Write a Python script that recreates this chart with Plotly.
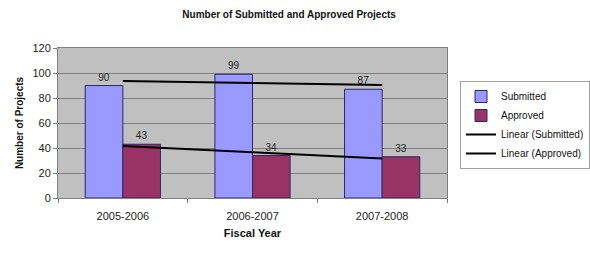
import numpy as np
import plotly.graph_objects as go

categories = ["2005-2006", "2006-2007", "2007-2008"]
submitted = [90, 99, 87]
approved = [43, 34, 33]
y_ticks = [0, 20, 40, 60, 80, 100, 120]


def linear_trend(vals):
    x = np.arange(1, len(vals) + 1)
    m, b = np.polyfit(x, vals, 1)
    return list(m * x + b)


font = "Liberation Sans, Arial, sans-serif"
fig = go.Figure()
fig.add_trace(go.Bar(
    x=categories, y=submitted, name="Submitted",
    marker=dict(color="#9999ff", line=dict(color="#2a2a60", width=1)),
    text=submitted, textposition="outside", cliponaxis=False,
    textfont=dict(size=10, color="#222", family=font),
))
fig.add_trace(go.Bar(
    x=categories, y=approved, name="Approved",
    marker=dict(color="#993366", line=dict(color="#2a2a60", width=1)),
    text=approved, textposition="outside", cliponaxis=False,
    textfont=dict(size=10, color="#222", family=font),
))
fig.add_trace(go.Scatter(
    x=categories, y=linear_trend(submitted), name="Linear (Submitted)",
    mode="lines", line=dict(color="black", width=2),
))
fig.add_trace(go.Scatter(
    x=categories, y=linear_trend(approved), name="Linear (Approved)",
    mode="lines", line=dict(color="black", width=2),
))

fig.update_layout(
    width=590, height=255,
    margin=dict(l=58, r=136, t=48, b=57),
    paper_bgcolor="white", plot_bgcolor="#c0c0c0",
    barmode="group", bargap=0.42, bargroupgap=0,
    font=dict(family=font, size=10, color="#222"),
    title=dict(text="<b>Number of Submitted and Approved Projects</b>",
               x=0.49, xanchor="center", y=0.945, yanchor="middle",
               font=dict(size=10, color="#111", family=font)),
    showlegend=True,
    legend=dict(xref="container", yref="container",
                x=460 / 590, y=1 - 81 / 255, xanchor="left", yanchor="top",
                bgcolor="white", bordercolor="#a0a0a0", borderwidth=1,
                font=dict(size=10, color="#111", family=font),
                tracegroupgap=0, itemwidth=30),
)
fig.update_xaxes(
    type="category", showline=True, linecolor="#808080", linewidth=1,
    mirror=True, ticks="outside", tickson="boundaries", ticklen=4,
    tickcolor="#808080", showgrid=False, ticklabelstandoff=8,
    tickfont=dict(size=11, color="#222", family=font),
    title=dict(text="<b>Fiscal Year</b>", standoff=8,
               font=dict(size=11, color="#111", family=font)),
)
fig.update_yaxes(
    range=[0, 120], tickvals=y_ticks, showline=True, linecolor="#808080",
    linewidth=1, mirror=True, ticks="outside", ticklen=4, tickcolor="#808080",
    showgrid=True, gridcolor="#808080", gridwidth=1, zeroline=False,
    tickfont=dict(size=11, color="#222", family=font),
    title=dict(text="<b>Number of Projects</b>", standoff=6,
               font=dict(size=10, color="#111", family=font)),
)
fig.write_html("out.html")
